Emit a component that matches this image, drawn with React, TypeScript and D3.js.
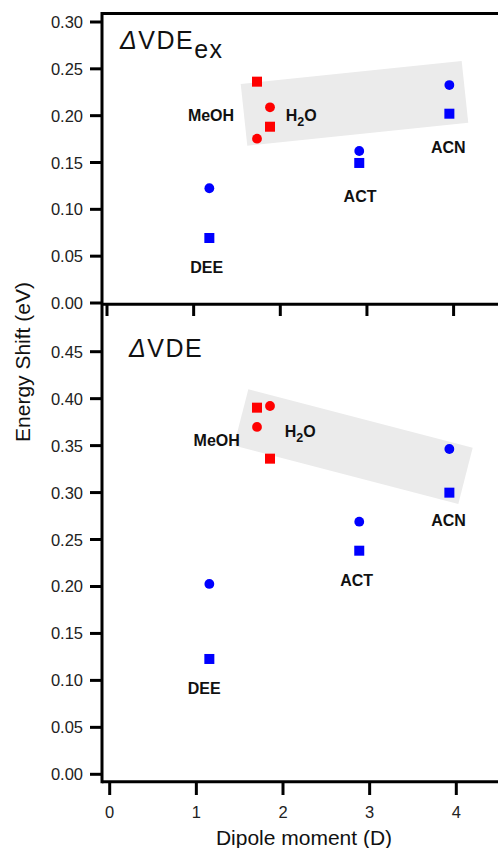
import React from "react";
import * as d3 from "d3";

// ---- data ----
const solvents = ["DEE", "MeOH", "H2O", "ACT", "ACN"];
const dipole = [1.15, 1.7, 1.85, 2.88, 3.92];
const solventColor = ["blue", "red", "red", "blue", "blue"];
const vdeExCircle = [0.1225, 0.1754, 0.2089, 0.1623, 0.2327];
const vdeExSquare = [0.0694, 0.2363, 0.1882, 0.1495, 0.2021];
const vdeCircle = [0.2027, 0.3699, 0.3922, 0.269, 0.3464];
const vdeSquare = [0.1228, 0.3904, 0.3361, 0.2381, 0.2999];
const xTicks = [0, 1, 2, 3, 4];
const topYTicks = [0, 0.05, 0.1, 0.15, 0.2, 0.25, 0.3];
const bottomYTicks = [0, 0.05, 0.1, 0.15, 0.2, 0.25, 0.3, 0.35, 0.4, 0.45];
// highlight bands (data coordinates)
const topBand: [number, number][] = [[1.512, 0.2338], [4.062, 0.2584], [4.138, 0.1925], [1.588, 0.1679]];
const bottomBand: [number, number][] = [[1.6, 0.41], [4.189, 0.3478], [4.023, 0.2879], [1.433, 0.35]];
// label anchors (data coordinates: center x, baseline y)
const topLabelPos: [number, number][] = [[1.119, 0.0323], [1.169, 0.1943], [2.211, 0.1943], [2.889, 0.108], [3.908, 0.1598]];
const bottomLabelPos: [number, number][] = [[1.09, 0.0855], [1.235, 0.35], [2.198, 0.3595], [2.85, 0.2009], [3.91, 0.2648]];

const W = 498, H = 848;
const left = 102, right = 502;
const topY0 = 13.5, midY = 304.2, botY1 = 781.7;

const x = d3.scaleLinear().domain([0, 4]).range([109.7, 456.3]);
const yTop = d3.scaleLinear().domain([0, 0.3]).range([303, 22]);
const yBot = d3.scaleLinear().domain([0, 0.45]).range([774.3, 351.7]);
const fmt = d3.format(".2f");
const font = "'Liberation Sans', Arial, sans-serif";

function Label({ name, px, py }: { name: string; px: number; py: number }) {
  if (name === "H2O") {
    return (
      <text x={px} y={py} textAnchor="middle" fontFamily={font} fontWeight="bold" fontSize={16} fill="#111">
        H<tspan fontSize={12.5} dy={5}>2</tspan><tspan dy={-5}>O</tspan>
      </text>
    );
  }
  return (
    <text x={px} y={py} textAnchor="middle" fontFamily={font} fontWeight="bold" fontSize={16} fill="#111">
      {name}
    </text>
  );
}

function Panel({ y, circles, squares, band, labels }: any) {
  const line = d3.line<[number, number]>().x((d) => x(d[0])).y((d) => y(d[1]));
  return (
    <g>
      <path d={line(band) + "Z"} fill="#ebebeb" />
      {dipole.map((d, i) => (
        <rect key={"s" + i} x={x(d) - 5} y={y(squares[i]) - 5} width={10} height={10} fill={solventColor[i]} />
      ))}
      {dipole.map((d, i) => (
        <circle key={"c" + i} cx={x(d)} cy={y(circles[i])} r={4.9} fill={solventColor[i]} />
      ))}
      {solvents.map((s, i) => (
        <Label key={s} name={s} px={x(labels[i][0])} py={y(labels[i][1])} />
      ))}
    </g>
  );
}

export default function App() {
  return (
    <svg width={W} height={H} style={{ position: "absolute", left: 0, top: 0, background: "#fff" }}>
      <Panel y={yTop} circles={vdeExCircle} squares={vdeExSquare} band={topBand} labels={topLabelPos} />
      <Panel y={yBot} circles={vdeCircle} squares={vdeSquare} band={bottomBand} labels={bottomLabelPos} />

      {/* frame */}
      <g stroke="#000" strokeWidth={3} fill="none">
        <line x1={left} x2={right} y1={topY0} y2={topY0} />
        <line x1={left} x2={right} y1={midY} y2={midY} />
        <line x1={left} x2={right} y1={botY1} y2={botY1} />
        <line x1={left} x2={left} y1={topY0 - 1.5} y2={botY1 + 1.5} />
      </g>

      {/* top y axis */}
      {topYTicks.map((t) => (
        <g key={"ty" + t}>
          <line x1={90} x2={left} y1={yTop(t)} y2={yTop(t)} stroke="#000" strokeWidth={3} />
          <text x={83} y={yTop(t) + 6} textAnchor="end" fontFamily={font} fontSize={16.5} fill="#222">{fmt(t)}</text>
        </g>
      ))}
      {/* bottom y axis */}
      {bottomYTicks.map((t) => (
        <g key={"by" + t}>
          <line x1={90} x2={left} y1={yBot(t)} y2={yBot(t)} stroke="#000" strokeWidth={3} />
          <text x={83} y={yBot(t) + 6} textAnchor="end" fontFamily={font} fontSize={16.5} fill="#222">{fmt(t)}</text>
        </g>
      ))}

      {/* x ticks between panels (top panel axis) */}
      {xTicks.map((t) => (
        <line key={"mx" + t} x1={x(t) - 2.7} x2={x(t) - 2.7} y1={midY} y2={316} stroke="#000" strokeWidth={3} />
      ))}
      {/* bottom x axis */}
      {xTicks.map((t) => (
        <g key={"bx" + t}>
          <line x1={x(t)} x2={x(t)} y1={botY1} y2={795} stroke="#000" strokeWidth={3} />
          <text x={x(t)} y={817.5} textAnchor="middle" fontFamily={font} fontSize={16.5} fill="#222">{t}</text>
        </g>
      ))}

      {/* titles */}
      <text x={120} y={49} fontFamily={font} fontSize={25} letterSpacing={1.5} fill="#111">
        <tspan fontStyle="italic" fontWeight={300}>Δ</tspan>VDE<tspan dy={9}>ex</tspan>
      </text>
      <text x={129} y={357} fontFamily={font} fontSize={25} letterSpacing={1.5} fill="#111">
        <tspan fontStyle="italic" fontWeight={300}>Δ</tspan>VDE
      </text>

      {/* axis titles */}
      <text x={304} y={845} textAnchor="middle" fontFamily={font} fontSize={21} fill="#111">Dipole moment (D)</text>
      <text transform="translate(30,362) rotate(-90)" textAnchor="middle" fontFamily={font} fontSize={21} fill="#111">Energy Shift (eV)</text>
    </svg>
  );
}
